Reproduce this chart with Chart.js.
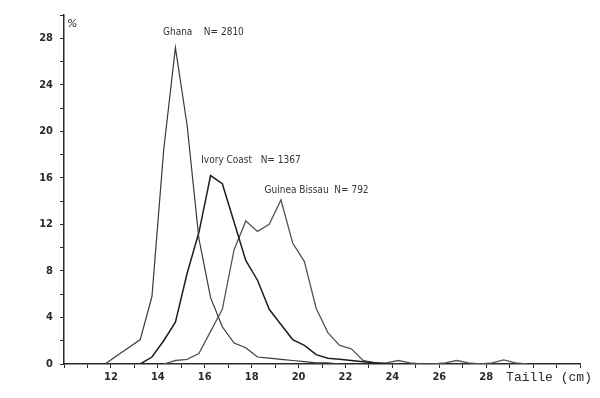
<!DOCTYPE html>
<html>
<head>
<meta charset="utf-8">
<script src="https://cdn.jsdelivr.net/npm/chart.js@4.4.1/dist/chart.umd.min.js"></script>
<style>
  html, body { margin: 0; padding: 0; background: #fff; }
  #wrap { width: 600px; height: 398px; }
</style>
</head>
<body>
<div id="wrap"><canvas id="sizeChart"></canvas></div>
<script>
// length classes (cm), class midpoints
const sizes = [11.75, 12.25, 12.75, 13.25, 13.75, 14.25, 14.75, 15.25, 15.75, 16.25, 16.75, 17.25, 17.75,
  18.25, 18.75, 19.25, 19.75, 20.25, 20.75, 21.25, 21.75, 22.25, 22.75, 23.25, 23.75, 24.25, 24.75,
  25.25, 25.75, 26.25, 26.75, 27.25, 27.75, 28.25, 28.75, 29.25, 29.75];

// percentage frequencies
const ghana = [0, 0.7, 1.4, 2.1, 5.8, 18.4, 27.2, 20.5, 10.8, 5.7, 3.2, 1.8, 1.4, 0.6, 0.5, 0.4, 0.3, 0.2, 0.1, 0.1, 0,
  null, null, null, null, null, null, null, null, null, null, null, null, null, null, null, null];
const ivoryCoast = [null, null, null, 0, 0.6, 2.0, 3.6, 7.8, 11.3, 16.2, 15.5, 12.2, 8.9, 7.2, 4.7, 3.4, 2.1, 1.6, 0.8,
  0.5, 0.4, 0.3, 0.2, 0.1, 0, null, null, null, null, null, null, null, null, null, null, null, null];
const guineaBissau = [null, null, null, null, null, 0, 0.3, 0.4, 0.9, 2.8, 4.7, 9.8, 12.3, 11.4, 12.0, 14.1, 10.4, 8.8,
  4.8, 2.7, 1.6, 1.3, 0.3, 0.1, 0.1, 0.3, 0.1, 0, 0, 0.1, 0.3, 0.1, 0, 0.1, 0.35, 0.1, 0];

const seriesNames = ['Ghana', 'Ivory Coast', 'Guinea Bissau'];
const seriesN = [2810, 1367, 792];
const xTickLabels = [12, 14, 16, 18, 20, 22, 24, 26, 28];
const yTickLabels = [0, 4, 8, 12, 16, 20, 24, 28];

// where the series names are written (data units)
const nameAnchors = [
  { x: 14.22, y: 28.5, gap: '    ' },
  { x: 15.85, y: 17.5, gap: '   ' },
  { x: 18.55, y: 14.9, gap: '  ' }
];

const toPoints = (vals) => vals.map((v, i) => ({ x: sizes[i], y: v }));

const ink = '#2a2a2a';

const seriesLabels = {
  id: 'seriesLabels',
  afterDraw(chart) {
    const { ctx, scales: { x, y } } = chart;
    ctx.save();
    ctx.fillStyle = '#333';
    ctx.font = '10px "DejaVu Sans Condensed", "DejaVu Sans", sans-serif';
    ctx.textBaseline = 'middle';
    nameAnchors.forEach((a, i) => {
      ctx.fillText(seriesNames[i] + a.gap + 'N= ' + seriesN[i], x.getPixelForValue(a.x), y.getPixelForValue(a.y));
    });
    // unit on the y axis
    ctx.font = 'italic 11px "DejaVu Sans", sans-serif';
    ctx.fillStyle = ink;
    ctx.fillText('%', x.left + 3, y.getPixelForValue(29.2));
    // x axis title
    ctx.font = '13px "Liberation Mono", "DejaVu Sans Mono", monospace';
    ctx.fillText('Taille (cm)', x.getPixelForValue(28.85), x.top + 14);
    ctx.restore();
  }
};

const lineStyle = (color, width) => ({
  borderColor: color,
  borderWidth: width,
  pointRadius: 0,
  tension: 0,
  fill: false,
  spanGaps: false
});

new Chart(document.getElementById('sizeChart'), {
  type: 'line',
  data: {
    datasets: [
      { label: seriesNames[0], data: toPoints(ghana), ...lineStyle('#3a3a3a', 1.2) },
      { label: seriesNames[1], data: toPoints(ivoryCoast), ...lineStyle('#1e1e1e', 1.5) },
      { label: seriesNames[2], data: toPoints(guineaBissau), ...lineStyle('#555', 1.3) }
    ]
  },
  options: {
    responsive: true,
    maintainAspectRatio: false,
    animation: false,
    layout: { padding: { top: 15, right: 20, left: 0, bottom: 0 } },
    plugins: {
      legend: { display: false },
      tooltip: { enabled: false }
    },
    scales: {
      x: {
        type: 'linear',
        min: 10,
        max: 32,
        afterFit: (s) => { s.height = 34; },
        grid: { drawOnChartArea: false, drawTicks: true, tickLength: 4, color: ink, lineWidth: 1 },
        border: { display: true, color: ink, width: 1.5 },
        ticks: {
          stepSize: 1,
          autoSkip: false,
          maxRotation: 0,
          padding: 3,
          color: ink,
          font: { family: '"DejaVu Sans Condensed", "DejaVu Sans", sans-serif', size: 11, weight: 'bold' },
          callback: (v) => xTickLabels.includes(v) ? String(v) : ''
        }
      },
      y: {
        min: 0,
        max: 30,
        afterFit: (s) => { s.width = 64; },
        grid: { drawOnChartArea: false, drawTicks: true, tickLength: 4, color: ink, lineWidth: 1 },
        border: { display: true, color: ink, width: 1.5 },
        ticks: {
          stepSize: 2,
          autoSkip: false,
          padding: 7,
          color: ink,
          font: { family: '"DejaVu Sans Condensed", "DejaVu Sans", sans-serif', size: 11, weight: 'bold' },
          callback: (v) => yTickLabels.includes(v) ? String(v) : ''
        }
      }
    }
  },
  plugins: [seriesLabels]
});
</script>
</body>
</html>
